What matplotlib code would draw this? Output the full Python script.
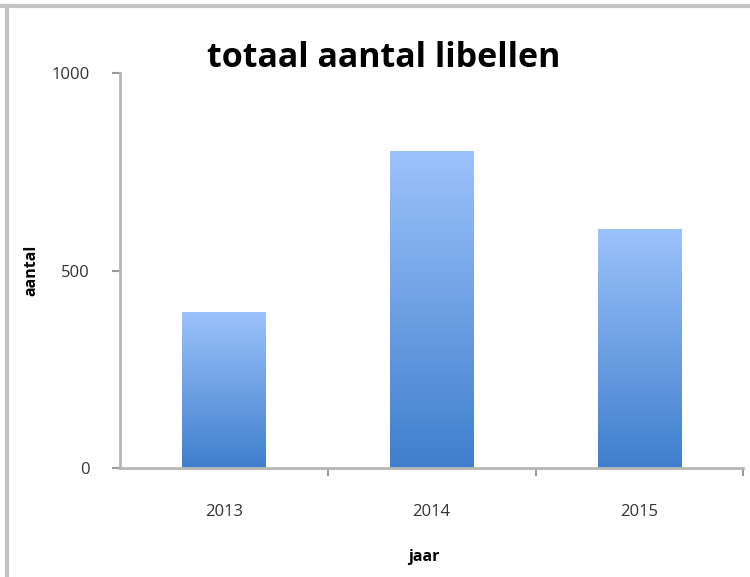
import numpy as np
import matplotlib
matplotlib.use("Agg")
import matplotlib.pyplot as plt
from matplotlib.colors import LinearSegmentedColormap
from matplotlib.lines import Line2D

years = ["2013", "2014", "2015"]
counts = [395, 802, 605]

plt.rcParams['font.family'] = ['Open Sans', 'DejaVu Sans']

fig = plt.figure(figsize=(7.5, 5.77), dpi=100)
ax = fig.add_axes([0.16, 0.189, 0.831, 0.684])

x = np.arange(len(years))
bars = ax.bar(x, counts, width=0.4, color='none', edgecolor='none', zorder=2)

# vertical gradient fill, light on top, darker at the bottom
cmap = LinearSegmentedColormap.from_list('grad', ['#3f7fcd', '#9cc2fb'])
grad = np.linspace(0, 1, 256).reshape(-1, 1)
for b in bars:
    x0, y0 = b.get_x(), b.get_y()
    w, h = b.get_width(), b.get_height()
    im = ax.imshow(grad, cmap=cmap, origin='lower', aspect='auto',
                   extent=[x0, x0 + w, y0, y0 + h], zorder=2)
    im.set_clip_path(b)

ax.set_xlim(-0.5, 2.5)
ax.set_ylim(0, 1000)
ax.set_yticks([0, 500, 1000])
ax.set_xticks(x)
ax.set_xticklabels(years)
ax.set_xticks([0.5, 1.5, 2.5], minor=True)

for s in ['top', 'right']:
    ax.spines[s].set_visible(False)
for s in ['left', 'bottom']:
    ax.spines[s].set_color('#b5b5b5')
    ax.spines[s].set_linewidth(2)

ax.tick_params(axis='y', length=6, width=1.5, color='#9a9a9a', labelsize=12,
               labelcolor='#333333', pad=16)
ax.tick_params(axis='x', which='major', length=0, labelsize=12,
               labelcolor='#333333', pad=26)
ax.tick_params(axis='x', which='minor', length=6, width=1.5, color='#9a9a9a')

ax.set_ylabel('aantal', fontsize=11.5, fontweight='bold')
ax.yaxis.set_label_coords(-0.13, 0.5)
ax.set_xlabel('jaar', fontsize=11.5, fontweight='bold')
ax.xaxis.set_label_coords(0.487, -0.205)
fig.text(0.511, 0.9, 'totaal aantal libellen', ha='center', va='center',
         fontsize=24.5, fontweight='bold')

# frame around the chart (top and left edges)
fig.add_artist(Line2D([0, 1], [0.9896, 0.9896], transform=fig.transFigure,
                      color='#c4c4c4', linewidth=3))
fig.add_artist(Line2D([0.0095, 0.0095], [0, 0.9896], transform=fig.transFigure,
                      color='#c4c4c4', linewidth=3))

fig.savefig('out.png', dpi=100)
